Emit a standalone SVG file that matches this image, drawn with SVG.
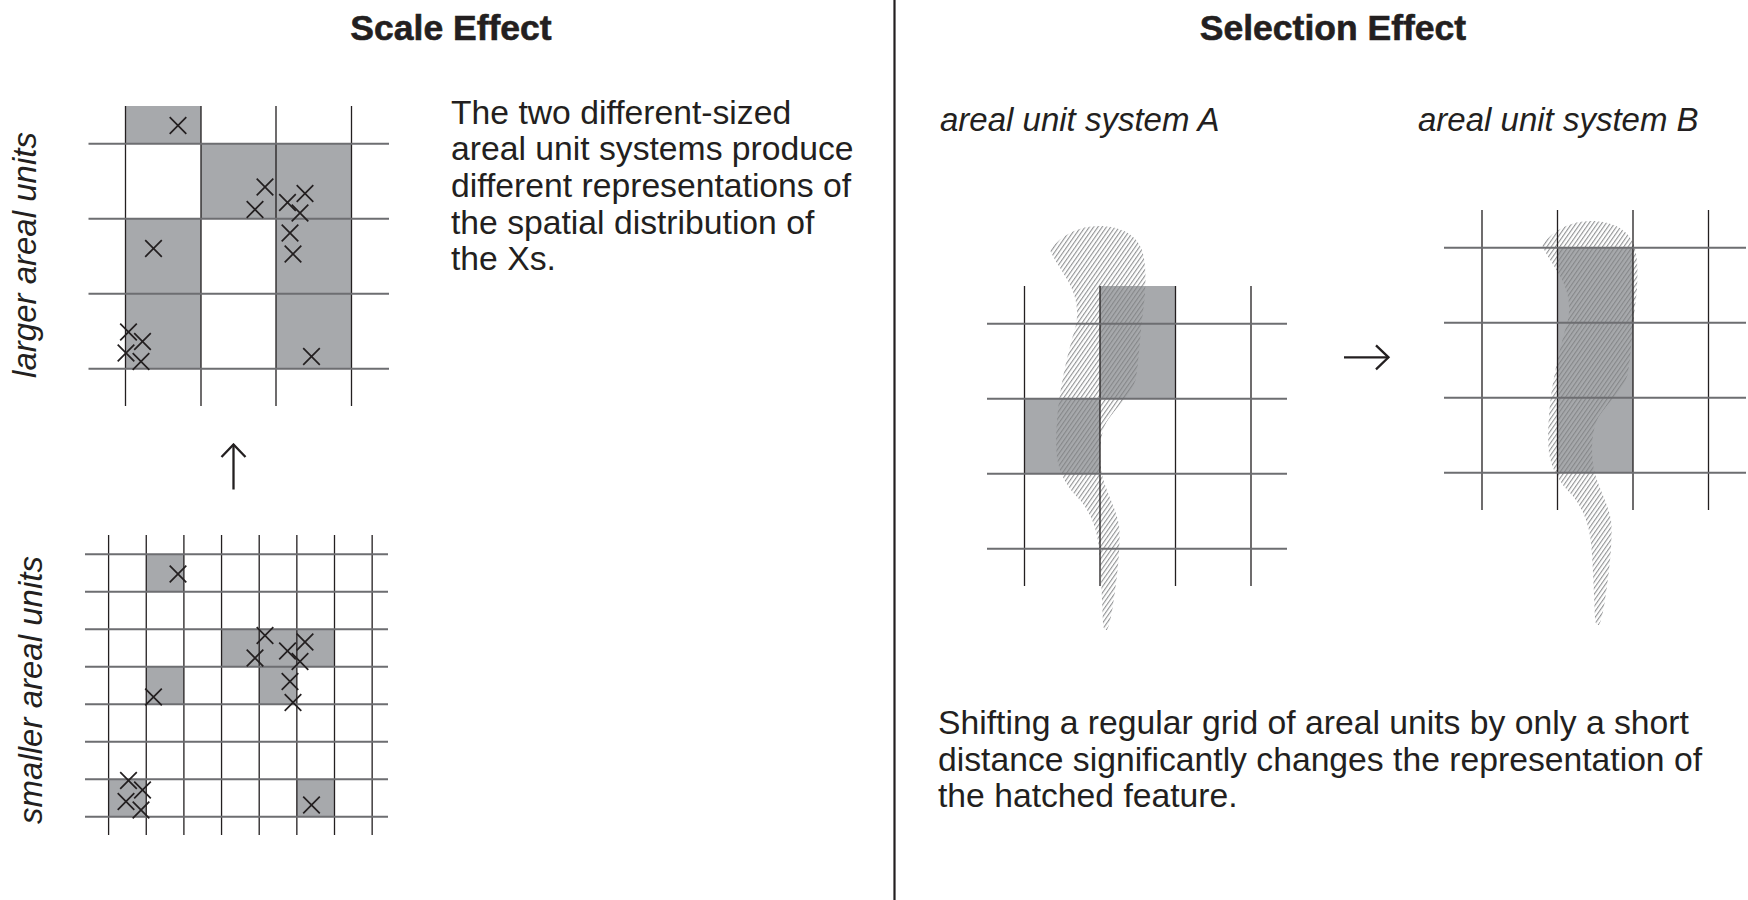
<svg xmlns="http://www.w3.org/2000/svg" xmlns:xlink="http://www.w3.org/1999/xlink" width="1748" height="900" viewBox="0 0 1748 900">
<style>
.title{font-family:"Liberation Sans",Arial,sans-serif;font-weight:bold;font-size:35.5px;fill:#231f20;stroke:#231f20;stroke-width:0.6;text-anchor:middle}
.body{font-family:"Liberation Sans",Arial,sans-serif;font-size:33.7px;fill:#231f20}
.ital{font-family:"Liberation Sans",Arial,sans-serif;font-style:italic;font-size:33px;fill:#231f20}
.vl{stroke:#231f20;stroke-width:1.3;fill:none}
.hl{stroke:#6d6e71;stroke-width:2;fill:none}
.cell{fill:#a7a9ac}
.xm{stroke:#231f20;stroke-width:1.7;fill:none}
.arrow{stroke:#231f20;stroke-width:2.3;fill:none}
.divider{stroke:#231f20;stroke-width:2.2}
</style>
<defs>
<pattern id="hatch" patternUnits="userSpaceOnUse" width="3.5" height="10" patternTransform="rotate(35)">
<line x1="0.6" y1="-1" x2="0.6" y2="11" stroke="#808184" stroke-width="0.95"/>
</pattern>
<path id="xmark" d="M-8.3,-8.3L8.3,8.3M8.3,-8.3L-8.3,8.3"/>
<g id="xset">
<use xlink:href="#xmark" x="178" y="125.5"/>
<use xlink:href="#xmark" x="265" y="187"/>
<use xlink:href="#xmark" x="255" y="209.5"/>
<use xlink:href="#xmark" x="287.5" y="202.5"/>
<use xlink:href="#xmark" x="305" y="193.5"/>
<use xlink:href="#xmark" x="300" y="213"/>
<use xlink:href="#xmark" x="290" y="233"/>
<use xlink:href="#xmark" x="293" y="254"/>
<use xlink:href="#xmark" x="153.5" y="248.5"/>
<use xlink:href="#xmark" x="128.5" y="332"/>
<use xlink:href="#xmark" x="142.5" y="341.5"/>
<use xlink:href="#xmark" x="126" y="353"/>
<use xlink:href="#xmark" x="141" y="361.5"/>
<use xlink:href="#xmark" x="311.5" y="356.5"/>
</g>
<path id="feature" d="M1050,250 C1062,234 1080,226 1098,226 C1120,226 1136,234 1142,250 C1147,265 1146,290 1143,312 C1140,335 1139,360 1136,378 C1132,395 1115,408 1106,423 C1099,437 1099,460 1102,475 C1106,492 1116,508 1119,525 C1121,545 1117,580 1113,605 C1111,618 1109,626 1107,630 C1105,630 1103,628 1103,624 C1102,600 1101,570 1099,548 C1097,528 1090,512 1080,500 C1068,488 1060,476 1057,458 C1055,440 1057,410 1061,388 C1065,365 1070,345 1076,325 C1079,310 1076,295 1068,281 C1062,270 1054,260 1050,250 Z"/>
<marker id="chev" viewBox="-15 -15 17 30" refX="0" refY="0" markerWidth="17" markerHeight="30" markerUnits="userSpaceOnUse" orient="auto">
<path d="M-12.5,-12 L0,0 L-12.5,12" fill="none" stroke="#231f20" stroke-width="2.3"/>
</marker>
</defs>
<rect x="0" y="0" width="1748" height="900" fill="#ffffff"/>

<g id="divider"><line class="divider" x1="894.5" y1="0" x2="894.5" y2="900"/></g>

<g id="title-scale"><text class="title" x="451" y="39.5">Scale Effect</text></g>
<g id="title-selection"><text class="title" x="1333" y="39.5">Selection Effect</text></g>

<g id="label-larger"><text class="ital" font-size="32.5" text-anchor="middle" transform="translate(36,255) rotate(-90)">larger areal units</text></g>
<g id="label-smaller"><text class="ital" font-size="32.4" text-anchor="middle" transform="translate(42,690) rotate(-90)">smaller areal units</text></g>

<g id="grid-larger">
<rect class="cell" x="125.5" y="106" width="75.5" height="37.7"/>
<rect class="cell" x="201" y="143.7" width="150.5" height="75"/>
<rect class="cell" x="276" y="218.7" width="75.5" height="150"/>
<rect class="cell" x="125.5" y="218.7" width="75.5" height="150"/>
<path class="vl" d="M125.5,106V406M201,106V406M276,106V406M351.5,106V406"/>
<path class="hl" d="M88.5,143.7H389M88.5,218.7H389M88.5,293.7H389M88.5,368.7H389"/>
<use class="xm" xlink:href="#xset"/>
</g>

<g id="grid-smaller">
<rect class="cell" x="146.25" y="554.3" width="37.65" height="37.5"/>
<rect class="cell" x="221.55" y="629.3" width="112.95" height="37.5"/>
<rect class="cell" x="146.25" y="666.8" width="37.65" height="37.5"/>
<rect class="cell" x="259.2" y="666.8" width="37.65" height="37.5"/>
<rect class="cell" x="108.6" y="779.3" width="37.65" height="37.5"/>
<rect class="cell" x="296.85" y="779.3" width="37.65" height="37.5"/>
<path class="vl" d="M108.6,535V835M146.25,535V835M183.9,535V835M221.55,535V835M259.2,535V835M296.85,535V835M334.5,535V835M372.15,535V835"/>
<path class="hl" d="M85,554.3H388M85,591.8H388M85,629.3H388M85,666.8H388M85,704.3H388M85,741.8H388M85,779.3H388M85,816.8H388"/>
<use class="xm" xlink:href="#xset" transform="translate(0,448.5)"/>
</g>

<g id="text-scale">
<text class="body" x="451" y="123.5">The two different-sized</text>
<text class="body" x="451" y="160.2">areal unit systems produce</text>
<text class="body" x="451" y="196.9">different representations of</text>
<text class="body" x="451" y="233.6">the spatial distribution of</text>
<text class="body" x="451" y="270.3">the Xs.</text>
</g>

<g id="label-system-a"><text class="ital" x="940" y="131">areal unit system A</text></g>
<g id="label-system-b"><text class="ital" x="1418" y="131">areal unit system B</text></g>

<g id="grid-a">
<rect class="cell" x="1100" y="286" width="75.5" height="112.7"/>
<rect class="cell" x="1024.5" y="398.7" width="75.5" height="75"/>
<use xlink:href="#feature" fill="url(#hatch)"/>
<path class="vl" d="M1024.5,286V586M1100,286V586M1175.5,286V586M1251,286V586"/>
<path class="hl" d="M987,323.7H1287M987,398.7H1287M987,473.7H1287M987,548.7H1287"/>
</g>

<g id="grid-b">
<rect class="cell" x="1557.5" y="247.7" width="75.5" height="225"/>
<use xlink:href="#feature" fill="url(#hatch)" transform="translate(492,-5)"/>
<path class="vl" d="M1482,210V510M1557.5,210V510M1633,210V510M1708.5,210V510"/>
<path class="hl" d="M1444,247.7H1746M1444,322.7H1746M1444,397.7H1746M1444,472.7H1746"/>
</g>

<g id="text-selection">
<text class="body" x="938" y="734">Shifting a regular grid of areal units by only a short</text>
<text class="body" x="938" y="770.7">distance significantly changes the representation of</text>
<text class="body" x="938" y="807.4">the hatched feature.</text>
</g>

<g id="connectors">
<path class="arrow" d="M233.5,489.5V444.5" marker-end="url(#chev)"/>
<path class="arrow" d="M1344,357.3H1388.5" marker-end="url(#chev)"/>
</g>
</svg>
